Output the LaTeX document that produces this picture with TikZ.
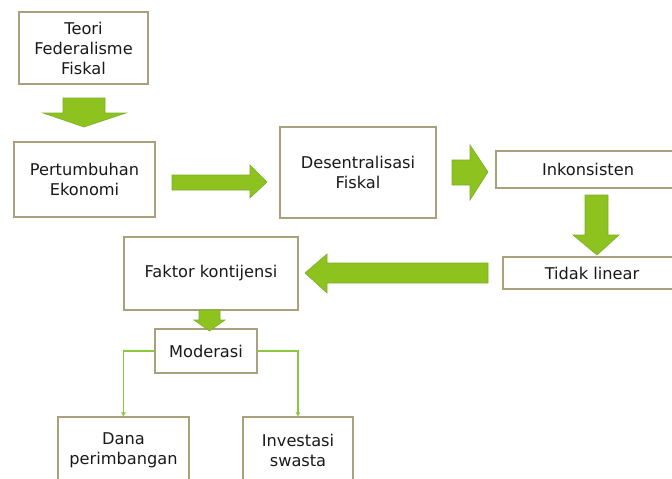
\documentclass[tikz,border=0pt]{standalone}
\usepackage{fontspec}
\setmainfont{DejaVu Sans}
\usetikzlibrary{arrows.meta}
\definecolor{boxline}{HTML}{A9A07C}
\definecolor{agreen}{HTML}{8DC21F}
\definecolor{agreenline}{HTML}{7BAF2A}
\definecolor{lgreen}{HTML}{8DC63F}
\begin{document}
\begin{tikzpicture}[x=1pt,y=-1pt,
  box/.style={draw=boxline,line width=1.3pt,fill=white,align=center,inner sep=0pt,
     font=\fontsize{16.2}{20}\selectfont,text=black!90},
  blockarrow/.style={fill=agreen,draw=agreenline,line width=0.6pt,line join=miter},
  thin/.style={draw=lgreen,line width=1.6pt,-{Triangle[length=4pt,width=4.5pt]}}]
\useasboundingbox (0,0) rectangle (672,479);
% boxes
\node[box,minimum width=129pt,minimum height=72pt] (teori) at (83.5,48) {Teori\\Federalisme\\Fiskal};
\node[box,minimum width=141pt,minimum height=75pt] (pert) at (84.5,179.5) {Pertumbuhan\\Ekonomi};
\node[box,minimum width=156pt,minimum height=91pt] (desen) at (358,172.5) {Desentralisasi\\Fiskal};
\node[box,minimum width=184pt,minimum height=37pt] (inkon) at (588,169.5) {Inkonsisten};
\node[box,minimum width=178pt,minimum height=32pt] (tidak) at (592,273) {Tidak linear};
\node[box,minimum width=174pt,minimum height=73pt] (faktor) at (211,273.5) {Faktor kontijensi};
\node[box,minimum width=102pt,minimum height=44pt] (moder) at (206,351) {Moderasi};
\node[box,minimum width=131pt,minimum height=66pt] (dana) at (123.5,450) {Dana\\perimbangan};
\node[box,minimum width=110pt,minimum height=66pt] (invest) at (298,450) {Investasi\\swasta};
% block arrows
\draw[blockarrow] (63,98) -- (105,98) -- (105,113) -- (126,113) -- (84,127) -- (43,113) -- (63,113) -- cycle;
\draw[blockarrow] (172,175) -- (250,175) -- (250,165) -- (267,182) -- (250,198) -- (250,190) -- (172,190) -- cycle;
\draw[blockarrow] (452,160) -- (470,160) -- (470,145) -- (488,172) -- (470,200) -- (470,185) -- (452,185) -- cycle;
\draw[blockarrow] (585,195) -- (608,195) -- (608,235) -- (619,235) -- (597,255) -- (573,235) -- (585,235) -- cycle;
\draw[blockarrow] (488,263) -- (327,263) -- (327,254) -- (305,273) -- (327,293) -- (327,283) -- (488,283) -- cycle;
\draw[blockarrow] (199,310) -- (220,310) -- (220,320) -- (225,320) -- (209.5,331) -- (194,320) -- (199,320) -- cycle;
% thin connectors
\draw[thin] (moder.west) -| (dana.north);
\draw[thin] (moder.east) -| (invest.north);
\end{tikzpicture}
\end{document}
